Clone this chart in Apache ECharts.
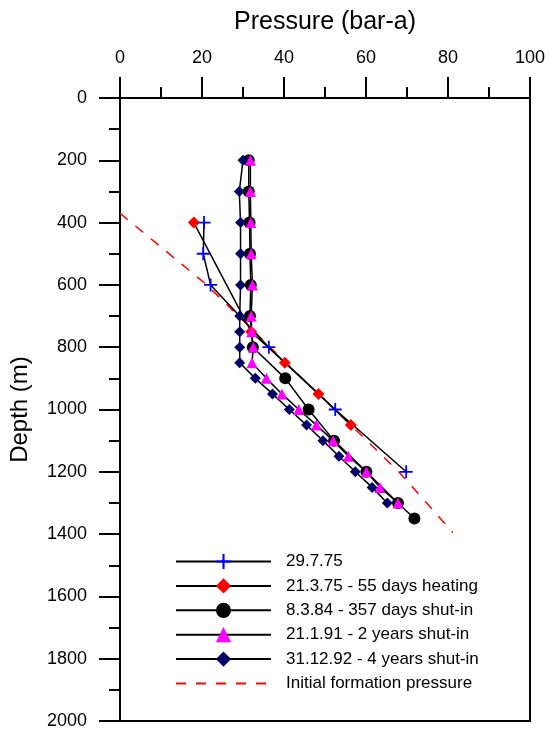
<!DOCTYPE html>
<html>
<head>
<meta charset="utf-8">
<script src="https://cdn.jsdelivr.net/npm/echarts@6/dist/echarts.min.js"></script>
<style>html,body{margin:0;padding:0;background:#fff}#c{width:549px;height:731px}</style>
</head>
<body>
<div id="c"></div>
<script>
// ---- data (pressure in bar-a, depth in m) ----
const seriesNames = ['29.7.75', '21.3.75 - 55 days heating', '8.3.84 - 357 days shut-in', '21.1.91 - 2 years shut-in', '31.12.92 - 4 years shut-in', 'Initial formation pressure'];
const depthBlue = [400, 500, 600, 800, 1000, 1200];
const pBlue = [20.5, 20.3, 22.1, 36.3, 52.5, 69.8];
const depthRed = [400, 750, 850, 950, 1050];
const pRed = [18.0, 32.0, 40.2, 48.4, 56.3];
const depthBlack = [200, 300, 400, 500, 600, 700, 800, 900, 1000, 1100, 1200, 1300, 1350];
const pBlack = [31.4, 31.4, 31.6, 31.7, 31.9, 31.7, 32.4, 40.3, 46.0, 52.2, 60.1, 67.8, 71.8];
const depthPink = [200, 300, 400, 500, 600, 700, 750, 800, 850, 900, 950, 1000, 1050, 1100, 1150, 1200, 1250, 1300];
const pPink = [31.8, 31.8, 31.9, 32.0, 32.3, 32.0, 32.1, 32.5, 32.2, 35.7, 39.5, 43.6, 47.9, 52.0, 55.7, 60.1, 63.4, 67.8];
const depthNavy = [200, 300, 400, 500, 600, 700, 750, 800, 850, 900, 950, 1000, 1050, 1100, 1150, 1200, 1250, 1300];
const pNavy = [30.0, 29.1, 29.4, 29.4, 29.4, 29.2, 29.2, 29.2, 29.2, 33.0, 37.2, 41.3, 45.5, 49.5, 53.4, 57.4, 61.5, 65.2];
const depthInit = [370, 598, 850, 1050, 1200, 1395];
const pInit = [0, 21.0, 40.5, 56.3, 68.0, 81.2];
const xTicks = [0, 20, 40, 60, 80, 100];
const yTicks = [0, 200, 400, 600, 800, 1000, 1200, 1400, 1600, 1800, 2000];

const pair = (ps, ds) => ps.map((p, i) => [p, ds[i]]);
const FONT = 'Liberation Sans, Arial, sans-serif';
const plusPath = 'path://M-0.14,-1 L0.14,-1 L0.14,-0.14 L1,-0.14 L1,0.14 L0.14,0.14 L0.14,1 L-0.14,1 L-0.14,0.14 L-1,0.14 L-1,-0.14 L-0.14,-0.14 Z';

function markerSeries(name, data, symbol, size, color) {
  return {
    name, type: 'line', data, symbol, symbolSize: size, showSymbol: true,
    lineStyle: { color: '#000', width: 1.5 },
    itemStyle: { color: color, borderWidth: 0 },
    emphasis: { disabled: true }, animation: false, z: 3
  };
}

const chart = echarts.init(document.getElementById('c'), null, { renderer: 'canvas' });
chart.setOption({
  backgroundColor: '#fff',
  animation: false,
  textStyle: { fontFamily: FONT },
  grid: { left: 120, right: 19, top: 98, bottom: 10, show: true, borderColor: '#000', borderWidth: 2, backgroundColor: 'transparent' },
  legend: {
    orient: 'vertical', left: 175, top: 553, padding: 0,
    itemWidth: 95, itemHeight: 19, itemGap: 7.4,
    textStyle: { fontSize: 17, color: '#000', fontFamily: FONT, padding: [0, 0, 0, 10] },
    data: seriesNames.slice(0, 5).map(n => ({ name: n })).concat([{ name: seriesNames[5], itemStyle: { opacity: 0 } }])
  },
  xAxis: {
    type: 'value', position: 'top', min: xTicks[0], max: xTicks[xTicks.length - 1], interval: 20,
    name: 'Pressure (bar-a)', nameLocation: 'middle', nameGap: 63,
    nameTextStyle: { fontSize: 25, color: '#000', fontFamily: FONT },
    axisLine: { show: true, lineStyle: { color: '#000', width: 2 } },
    axisTick: { show: true, length: 21, lineStyle: { color: '#000', width: 2 } },
    minorTick: { show: true, splitNumber: 2, length: 11, lineStyle: { color: '#000', width: 2 } },
    splitLine: { show: false },
    axisLabel: { fontSize: 18, color: '#000', margin: 31, fontFamily: FONT, formatter: v => String(v) }
  },
  yAxis: {
    type: 'value', inverse: true, min: yTicks[0], max: yTicks[yTicks.length - 1], interval: 200,
    name: 'Depth (m)', nameLocation: 'middle', nameGap: 88,
    nameTextStyle: { fontSize: 24, color: '#000', fontFamily: FONT },
    axisLine: { show: true, lineStyle: { color: '#000', width: 2 } },
    axisTick: { show: true, length: 21, lineStyle: { color: '#000', width: 2 } },
    minorTick: { show: true, splitNumber: 2, length: 11, lineStyle: { color: '#000', width: 2 } },
    splitLine: { show: false },
    axisLabel: { fontSize: 18, color: '#000', margin: 33, fontFamily: FONT, formatter: v => String(v) }
  },
  series: [
    {
      name: seriesNames[5], type: 'line', data: pair(pInit, depthInit), symbol: 'none', showSymbol: false,
      lineStyle: { color: '#ff0000', width: 1.5, type: [10, 10] },
      itemStyle: { color: '#ff0000' }, emphasis: { disabled: true }, z: 2
    },
    markerSeries(seriesNames[0], pair(pBlue, depthBlue), plusPath, 13, '#0000ff'),
    markerSeries(seriesNames[1], pair(pRed, depthRed), 'diamond', 12, '#ff0000'),
    markerSeries(seriesNames[2], pair(pBlack, depthBlack), 'circle', 12, '#000000'),
    markerSeries(seriesNames[3], pair(pPink, depthPink), 'triangle', 11, '#ff00ff'),
    markerSeries(seriesNames[4], pair(pNavy, depthNavy), 'diamond', 11, '#000066')
  ]
});
</script>
</body>
</html>
